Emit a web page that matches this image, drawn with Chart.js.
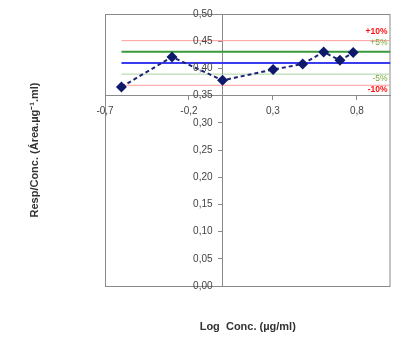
<!DOCTYPE html>
<html>
<head>
<meta charset="utf-8">
<script src="https://cdn.jsdelivr.net/npm/chart.js@4"></script>
<style>
  body { margin: 0; background: #fff; }
</style>
</head>
<body>
<canvas id="myChart" width="396" height="338"></canvas>
<script>
// log concentration vs response/concentration
var logConc = [-0.602, -0.301, 0.0, 0.301, 0.477, 0.602, 0.699, 0.778];
var respConc = [0.366, 0.421, 0.378, 0.398, 0.408, 0.430, 0.415, 0.429];

// reference lines: mean and +/-5%, +/-10%
var refValues = [0.451, 0.4305, 0.41, 0.3895, 0.369];
var refLabels = ['+10%', '+5%', '', '-5%', '-10%'];

var xTickValues = [-0.7, -0.2, 0.3, 0.8];
var xTickLabels = ['-0,7', '-0,2', '0,3', '0,8'];
var yTickValues = [0, 0.05, 0.10, 0.15, 0.20, 0.25, 0.30, 0.35, 0.40, 0.45, 0.50];
var yTickLabels = ['0,00', '0,05', '0,10', '0,15', '0,20', '0,25', '0,30', '0,35', '0,40', '0,45', '0,50'];

var refColors = ['#ff9c9c', '#3a9a3a', '#3b3bf0', '#a8d4a0', '#ff9c9c'];
var refWidths = [1, 2, 2, 1, 1];
var refLabelColors = ['#ff1010', '#7aa83a', '', '#7aa83a', '#ff1010'];
var refLabelBold = [true, false, false, false, true];

var xMax = 1.0;

var datasets = [{
    data: logConc.map(function(x, i) { return {x: x, y: respConc[i]}; }),
    borderColor: '#1a2577',
    backgroundColor: '#0d1a6b',
    borderWidth: 2,
    borderDash: [4, 3],
    pointStyle: 'rectRot',
    pointRadius: 5.5,
    pointBorderWidth: 0,
    order: 0
}];

for (var i = 0; i < refValues.length; i++) {
    datasets.push({
        data: [{x: logConc[0], y: refValues[i]}, {x: xMax, y: refValues[i]}],
        borderColor: refColors[i],
        borderWidth: refWidths[i],
        pointRadius: 0,
        order: 1
    });
}

var frameAndLabels = {
    id: 'frameAndLabels',
    beforeDatasetsDraw: function(chart) {
        var a = chart.chartArea;
        var c = chart.ctx;
        c.save();
        c.strokeStyle = '#8a8a8a';
        c.lineWidth = 1;
        c.strokeRect(a.left + 0.5, a.top + 0.5, a.right - a.left - 1, a.bottom - a.top);
        c.restore();
    },
    afterDraw: function(chart) {
        var a = chart.chartArea;
        var c = chart.ctx;
        var yScale = chart.scales.y;
        var xScale = chart.scales.x;
        c.save();
        c.textAlign = 'right';
        for (var i = 0; i < refLabels.length; i++) {
            if (!refLabels[i]) continue;
            var py = yScale.getPixelForValue(refValues[i]);
            c.fillStyle = refLabelColors[i];
            c.font = (refLabelBold[i] ? 'bold ' : '') + '8.5px "Liberation Sans", Arial';
            if (refValues[i] > refValues[2]) {
                c.textBaseline = 'bottom';
                c.fillText(refLabels[i], a.right - 3, py - 5);
            } else {
                c.textBaseline = 'top';
                c.fillText(refLabels[i], a.right - 3, py);
            }
        }
        // y tick labels, left of the y axis crossing at x = 0
        var ax = xScale.getPixelForValue(0);
        c.fillStyle = '#444';
        c.font = '10px "Liberation Sans", Arial';
        c.textBaseline = 'middle';
        for (var j = 0; j < yTickValues.length; j++) {
            c.fillText(yTickLabels[j], ax - 10, yScale.getPixelForValue(yTickValues[j]));
        }
        // axis titles
        c.fillStyle = '#333';
        c.font = 'bold 11px "Liberation Sans", Arial';
        c.textAlign = 'center';
        c.textBaseline = 'middle';
        c.fillText('Log  Conc. (\u00b5g/ml)', (a.left + a.right) / 2, 327);
        c.translate(35, (a.top + a.bottom) / 2);
        c.rotate(-Math.PI / 2);
        c.fillText('Resp/Conc. (\u00c1rea.\u00b5g\u207b\u00b9.ml)', 0, 0);
        c.restore();
    }
};

var ctx = document.getElementById('myChart').getContext('2d');
var myChart = new Chart(ctx, {
    type: 'line',
    data: { datasets: datasets },
    options: {
        responsive: false,
        animation: false,
        layout: { padding: { left: 105, right: 2, top: 14, bottom: 52 } },
        plugins: { legend: { display: false }, tooltip: { enabled: false } },
        scales: {
            x: {
                type: 'linear',
                min: -0.7,
                max: xMax,
                position: { y: 0.35 },
                afterBuildTicks: function(scale) {
                    scale.ticks = xTickValues.map(function(v) { return {value: v}; });
                },
                ticks: {
                    color: '#444',
                    font: { family: '"Liberation Sans", Arial', size: 10 },
                    padding: 6,
                    maxRotation: 0,
                    callback: function(value) {
                        return xTickLabels[xTickValues.indexOf(value)];
                    }
                },
                grid: { drawOnChartArea: false, tickLength: 4, color: '#8a8a8a' },
                border: { color: '#8a8a8a', width: 1 }
            },
            y: {
                type: 'linear',
                min: 0,
                max: 0.5,
                position: { x: 0 },
                afterBuildTicks: function(scale) {
                    scale.ticks = yTickValues.map(function(v) { return {value: v}; });
                },
                ticks: { display: false },
                grid: { drawOnChartArea: false, tickLength: 4, color: '#8a8a8a' },
                border: { color: '#8a8a8a', width: 1 }
            }
        }
    },
    plugins: [frameAndLabels]
});
</script>
</body>
</html>
